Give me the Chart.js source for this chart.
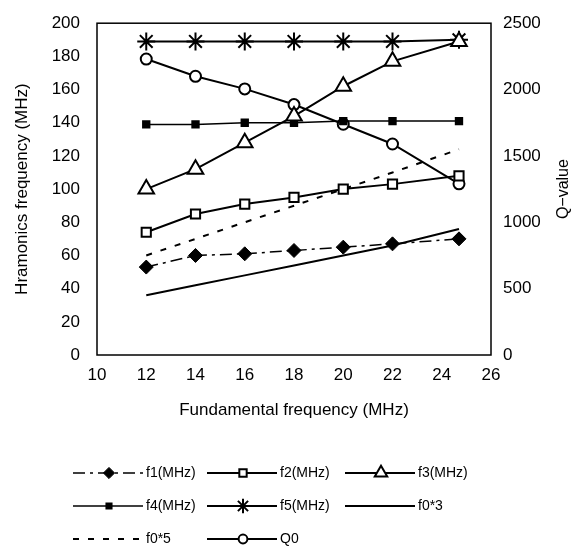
<!DOCTYPE html>
<html>
<head>
<meta charset="utf-8">
<script src="https://cdn.jsdelivr.net/npm/chart.js@4.4.1/dist/chart.umd.min.js"></script>
<style>
  html, body { margin: 0; padding: 0; background: #fff; }
  #wrap { width: 573px; height: 550px; }
</style>
</head>
<body>
<div id="wrap"><canvas id="grafico" width="573" height="550"></canvas></div>
<script>
// datos
var frecuencias = [12, 14, 16, 18, 20, 22, 24.7];
var f1 = [53, 60, 61, 63, 65, 67, 70];
var f2 = [74, 85, 91, 95, 100, 103, 108];
var f3 = [100, 112, 128, 144, 162, 177, 189];
var f4 = [139, 139, 140, 140, 141, 141, 141];
var f5 = [189, 189, 189, 189, 189, 189, 190];
var f0x3 = [36, 42, 48, 54, 60, 66, 76];
var f0x5 = [60, 70, 80, 90, 100, 110, 124];
var q0 = [2230, 2100, 2005, 1887, 1739, 1590, 1290];

var ticksX = [10, 12, 14, 16, 18, 20, 22, 24, 26];
var ticksIzq = [0, 20, 40, 60, 80, 100, 120, 140, 160, 180, 200];
var ticksDer = [0, 500, 1000, 1500, 2000, 2500];

var fuente = "'Liberation Sans', Arial, sans-serif";

function puntos(valores) {
    return frecuencias.map(function (x, i) { return { x: x, y: valores[i] }; });
}

function serie(label, valores, estilo) {
    return Object.assign({
        label: label,
        data: puntos(valores),
        borderColor: '#000',
        backgroundColor: '#fff',
        pointBorderColor: '#000',
        borderWidth: 2,
        pointBorderWidth: 2,
        pointRadius: 0,
        pointHoverRadius: 0,
        yAxisID: 'y',
        tension: 0
    }, estilo);
}

var datasets = [
    serie('f1(MHz)', f1, { borderWidth: 1.5, borderDash: [12, 5, 3, 5], pointStyle: 'rectRot', pointRadius: 7, pointBackgroundColor: '#000', pointBorderWidth: 1 }),
    serie('f2(MHz)', f2, { pointStyle: 'rect', pointRadius: 6.5, pointBackgroundColor: '#fff' }),
    serie('f3(MHz)', f3, { pointStyle: 'triangle', pointRadius: 9, pointBackgroundColor: '#fff' }),
    serie('f4(MHz)', f4, { borderWidth: 1.5, pointStyle: 'rect', pointRadius: 4.5, pointBackgroundColor: '#000' }),
    serie('f5(MHz)', f5, { pointStyle: 'star', pointRadius: 9, pointBorderWidth: 2 }),
    serie('f0*3', f0x3, {}),
    serie('f0*5', f0x5, { borderDash: [6, 9] }),
    serie('Q0', q0, { yAxisID: 'y1', pointStyle: 'circle', pointRadius: 5.5, pointBackgroundColor: '#fff' })
];

// leyenda dibujada en tres columnas, como en el original
var leyendaCols = [73, 207, 345];
var leyendaFilas = [473, 506, 539];

const leyendaPlugin = {
    id: 'leyendaExcel',
    afterDraw: function (chart) {
        var ctx = chart.ctx;
        ctx.save();
        chart.data.datasets.forEach(function (ds, i) {
            var x0 = leyendaCols[i % 3];
            var y0 = leyendaFilas[Math.floor(i / 3)];
            var largo = 70;
            ctx.strokeStyle = '#000';
            ctx.lineWidth = ds.borderWidth;
            ctx.setLineDash(ds.borderDash || []);
            ctx.beginPath();
            ctx.moveTo(x0, y0);
            ctx.lineTo(x0 + largo, y0);
            ctx.stroke();
            ctx.setLineDash([]);
            if (ds.pointRadius > 0) {
                ctx.fillStyle = ds.pointBackgroundColor;
                ctx.lineWidth = ds.pointBorderWidth;
                Chart.helpers.drawPoint(ctx, {
                    pointStyle: ds.pointStyle,
                    radius: ds.pointRadius * 0.8,
                    rotation: 0,
                    borderWidth: ds.pointBorderWidth
                }, x0 + 36, y0);
            }
            ctx.fillStyle = '#000';
            ctx.font = '14px ' + fuente;
            ctx.textBaseline = 'middle';
            ctx.textAlign = 'left';
            ctx.fillText(ds.label, x0 + largo + 3, y0);
        });
        ctx.restore();
    }
};

// titulo del eje derecho leido de abajo hacia arriba
const tituloDerPlugin = {
    id: 'tituloDer',
    afterDraw: function (chart) {
        var ctx = chart.ctx;
        var area = chart.chartArea;
        ctx.save();
        ctx.translate(564, (area.top + area.bottom) / 2);
        ctx.rotate(-Math.PI / 2);
        ctx.fillStyle = '#000';
        ctx.font = '16px ' + fuente;
        ctx.textAlign = 'center';
        ctx.textBaseline = 'middle';
        ctx.fillText('Q\u2212value', 0, 0);
        ctx.restore();
    }
};

const bordePlugin = {
    id: 'borde',
    afterDatasetsDraw: function (chart) {
        var ctx = chart.ctx;
        var a = chart.chartArea;
        ctx.save();
        ctx.strokeStyle = '#000';
        ctx.lineWidth = 1.5;
        ctx.strokeRect(a.left, a.top, a.right - a.left, a.bottom - a.top);
        ctx.restore();
    }
};

Chart.defaults.font.family = fuente;
Chart.defaults.color = '#000';

function sinComas(val) { return String(val); }

const grafico = new Chart('grafico', {
    type: 'line',
    data: { datasets: datasets },
    plugins: [leyendaPlugin, tituloDerPlugin, bordePlugin],
    options: {
        responsive: false,
        animation: false,
        events: [],
        layout: { padding: { top: 18, left: 0, right: 0, bottom: 125 } },
        plugins: { legend: { display: false }, tooltip: { enabled: false } },
        scales: {
            x: {
                type: 'linear',
                min: 10, max: 26,
                afterBuildTicks: function (s) { s.ticks = ticksX.map(function (v) { return { value: v }; }); },
                grid: { display: false, tickLength: 4 },
                border: { display: false },
                ticks: { font: { size: 17 }, padding: 6, maxRotation: 0, callback: sinComas },
                title: { display: true, text: 'Fundamental frequency (MHz)', font: { size: 17 }, padding: { top: 2 } },
                afterFit: function (s) { s.height = 70; }
            },
            y: {
                position: 'left',
                min: 0, max: 200,
                afterBuildTicks: function (s) { s.ticks = ticksIzq.map(function (v) { return { value: v }; }); },
                grid: { display: false, tickLength: 4 },
                border: { display: false },
                ticks: { font: { size: 17 }, padding: 13, callback: sinComas },
                title: { display: true, text: 'Hramonics frequency (MHz)', font: { size: 17 }, padding: { top: 12, bottom: 0 } },
                afterFit: function (s) { s.width = 97; }
            },
            y1: {
                position: 'right',
                min: 0, max: 2500,
                afterBuildTicks: function (s) { s.ticks = ticksDer.map(function (v) { return { value: v }; }); },
                grid: { display: false, tickLength: 4 },
                border: { display: false },
                ticks: { font: { size: 17 }, padding: 8, callback: sinComas },
                afterFit: function (s) { s.width = 82; }
            }
        }
    }
});
</script>
</body>
</html>
